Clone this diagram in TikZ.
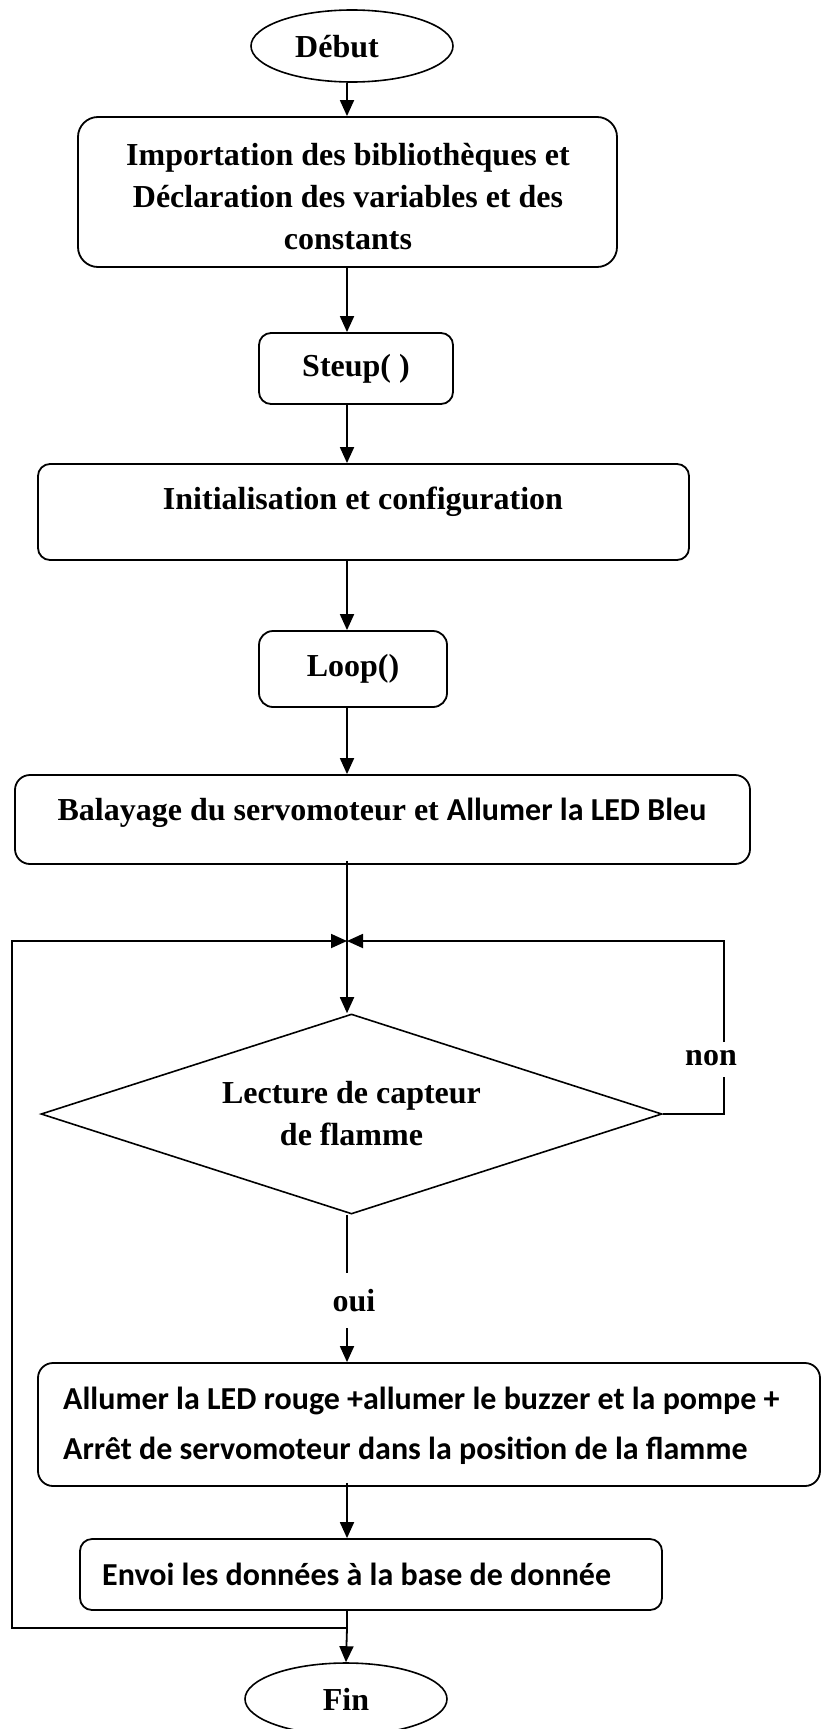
\documentclass[tikz,border=0pt]{standalone}
\usepackage{fontspec}
\setmainfont{Liberation Serif}
\newfontfamily\calfont{Carlito}
\usetikzlibrary{shapes.geometric,arrows.meta}
\begin{document}
\begin{tikzpicture}[x=1pt,y=-1pt,
  every node/.style={inner sep=0pt, font=\fontsize{32}{42}\selectfont\bfseries},
  pbox/.style={draw, line width=1.8pt, rounded corners=#1, align=center},
  term/.style={draw, ellipse, line width=1.6pt, minimum width=202pt, minimum height=72pt},
  link/.style={line width=1.8pt},
  arr/.style={line width=1.8pt, -{Triangle[length=16pt,width=14pt]}}
]
\useasboundingbox (0,0) rectangle (821,1729);

% spine
\coordinate (s) at (347,0);

\node[term] (debut) at (352,46) {};
\node (debutt) at (337,47) {Début};

\node[pbox=20pt, minimum width=539pt, minimum height=150pt] (imp) at (347.5,192) {};
\node[align=center] (impt) at (348,197)
  {Importation des bibliothèques et\\Déclaration des variables et des\\constants};

\node[pbox=12pt, minimum width=194pt, minimum height=71pt] (setup) at (356,368.5) {Steup( )};

\node[pbox=12pt, minimum width=651pt, minimum height=96pt] (init) at (363.5,512) {};
\node (initt) at (363,502) {Initialisation et configuration};

\node[pbox=14pt, minimum width=188pt, minimum height=76pt] (loop) at (353,669) {Loop()};

\node[pbox=15pt, minimum width=735pt, minimum height=89pt] (bal) at (382.5,819.5) {};
\node (balt) at (382,813) {Balayage du servomoteur et {\calfont Allumer la LED Bleu}};

\node[draw, diamond, line width=1.6pt, aspect=3.1, minimum width=621pt, minimum height=200pt, align=center] (dia) at (351.5,1114)
  {Lecture de capteur\\de flamme};

\node[pbox=15pt, minimum width=782pt, minimum height=123pt] (all) at (429,1424.5) {};
\node[anchor=west, align=left, font=\fontsize{32}{50}\selectfont\bfseries\calfont] (allt) at (63,1426)
  {Allumer la LED rouge +allumer le buzzer et la pompe +\\Arrêt de servomoteur dans la position de la flamme};

\node[pbox=12pt, minimum width=582pt, minimum height=71pt] (env) at (371,1574.5) {};
\node[anchor=west, font=\fontsize{32}{42}\selectfont\bfseries\calfont] (envt) at (102,1574)
  {Envoi les données à la base de donnée};

\node[term] (fin) at (346,1699) {Fin};

\node (non) at (711,1058) {non};
\node (oui) at (354,1301) {oui};

% coordinates for connectors
\coordinate (j) at (347,941);
\coordinate (r1) at (724,1077);
\coordinate (r2) at (724,1042);
\coordinate (o1) at (347,1273);
\coordinate (o2) at (347,1328);
\coordinate (b) at (347,1628);
\coordinate (lc) at (12,941);

% main flow
\draw[arr] (debut.south -| s) -- (imp.north -| s);
\draw[arr] (imp.south -| s) -- (setup.north -| s);
\draw[arr] (setup.south -| s) -- (init.north -| s);
\draw[arr] (init.south -| s) -- (loop.north -| s);
\draw[arr] (loop.south -| s) -- (bal.north -| s);
\draw[link] ([yshift=4pt]bal.south -| s) -- (j);
\draw[arr] (j) -- (dia.north -| s);
\draw[link] (dia.south -| s) -- (o1);
\draw[arr] (o2) -- (all.north -| s);
\draw[arr] ([yshift=4pt]all.south -| s) -- (env.north -| s);
\draw[link] (env.south -| s) -- (b);
\draw[arr] (b) -- (fin.north);

% non loop
\draw[link] (dia.east) -| (r1);
\draw[arr] (r2) |- (j);

% return loop
\draw[arr] (b) -| (lc) -- (j);
\end{tikzpicture}
\end{document}
